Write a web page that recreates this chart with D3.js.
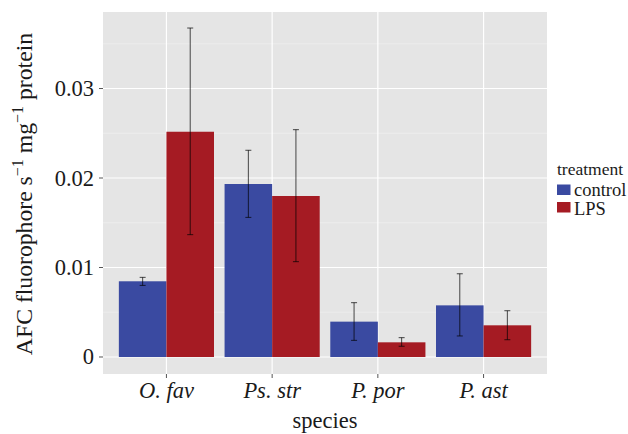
<!DOCTYPE html>
<html>
<head>
<meta charset="utf-8">
<script src="https://cdn.jsdelivr.net/npm/d3@7"></script>
<style>
  html, body { margin: 0; padding: 0; background: #fff; }
  svg { display: block; }
</style>
</head>
<body>
<svg id="chart" width="628" height="434"></svg>
<script>
const species = ["O. fav", "Ps. str", "P. por", "P. ast"];
const treatments = ["control", "LPS"];
const controlMean = [0.00846, 0.01933, 0.00395, 0.00577];
const controlLow  = [0.00800, 0.01560, 0.00186, 0.00235];
const controlHigh = [0.00890, 0.02310, 0.00607, 0.00930];
const lpsMean = [0.02517, 0.01799, 0.00164, 0.00354];
const lpsLow  = [0.01367, 0.01065, 0.00120, 0.00193];
const lpsHigh = [0.03676, 0.02540, 0.00216, 0.00517];
const yTicks = [0, 0.01, 0.02, 0.03];
const yTickLabels = ["0", "0.01", "0.02", "0.03"];
const yMinor = [0.005, 0.015, 0.025, 0.035];
const colors = { control: "#3a4aa1", LPS: "#a51b23" };

const FONT = "Liberation Serif";

const rows = [];
species.forEach((s, i) => {
  rows.push({ species: s, treatment: "control", mean: controlMean[i], low: controlLow[i], high: controlHigh[i] });
  rows.push({ species: s, treatment: "LPS", mean: lpsMean[i], low: lpsLow[i], high: lpsHigh[i] });
});

const svg = d3.select("#chart");
const panel = { left: 103, right: 547, top: 12, bottom: 374 };

const x = d3.scaleBand().domain(species).range([panel.left, panel.right])
  .paddingInner(0.1).paddingOuter(0.15);
const xInner = d3.scaleBand().domain(treatments).range([0, x.bandwidth()]).padding(0);
const y = d3.scaleLinear().domain([-0.0019, 0.03855]).range([panel.bottom, panel.top]);

function addText(px, py, str, size, opts = {}) {
  const t = svg.append("text")
    .attr("x", px).attr("y", py)
    .attr("font-family", FONT)
    .attr("font-size", size)
    .attr("fill", "#1a1a1a")
    .attr("text-anchor", opts.anchor || "start")
    .text(str);
  if (opts.italic) t.attr("font-style", "italic");
  return t;
}

// panel background
svg.append("rect")
  .attr("x", panel.left).attr("y", panel.top)
  .attr("width", panel.right - panel.left).attr("height", panel.bottom - panel.top)
  .attr("fill", "#e5e5e5");

// minor grid
yMinor.forEach(d => {
  svg.append("line").attr("x1", panel.left).attr("x2", panel.right)
    .attr("y1", y(d)).attr("y2", y(d))
    .attr("stroke", "#f2f2f2").attr("stroke-width", 0.6);
});
// major grid
yTicks.forEach(d => {
  svg.append("line").attr("x1", panel.left).attr("x2", panel.right)
    .attr("y1", y(d)).attr("y2", y(d))
    .attr("stroke", "#ffffff").attr("stroke-width", 1.2);
});
species.forEach(d => {
  const cx = x(d) + x.bandwidth() / 2;
  svg.append("line").attr("x1", cx).attr("x2", cx)
    .attr("y1", panel.top).attr("y2", panel.bottom)
    .attr("stroke", "#ffffff").attr("stroke-width", 1.2);
});

// bars
rows.forEach(d => {
  svg.append("rect")
    .attr("x", x(d.species) + xInner(d.treatment))
    .attr("width", xInner.bandwidth())
    .attr("y", y(d.mean))
    .attr("height", y(0) - y(d.mean))
    .attr("fill", colors[d.treatment]);
});

// error bars
const capW = 3;
rows.forEach(d => {
  const cx = x(d.species) + xInner(d.treatment) + xInner.bandwidth() / 2;
  const seg = (x1, y1, x2, y2) => svg.append("line")
    .attr("x1", x1).attr("y1", y1).attr("x2", x2).attr("y2", y2)
    .attr("stroke", "rgba(0,0,0,0.7)").attr("stroke-width", 1);
  seg(cx, y(d.low), cx, y(d.high));
  seg(cx - capW, y(d.low), cx + capW, y(d.low));
  seg(cx - capW, y(d.high), cx + capW, y(d.high));
});

// y axis: ticks + labels
yTicks.forEach((d, i) => {
  svg.append("line").attr("x1", panel.left - 4).attr("x2", panel.left)
    .attr("y1", y(d)).attr("y2", y(d)).attr("stroke", "#555").attr("stroke-width", 1);
  addText(panel.left - 9, y(d) + 7.5, yTickLabels[i], 22.5, { anchor: "end" });
});

// x axis: ticks + labels
species.forEach(d => {
  const cx = x(d) + x.bandwidth() / 2;
  svg.append("line").attr("x1", cx).attr("x2", cx)
    .attr("y1", panel.bottom).attr("y2", panel.bottom + 4).attr("stroke", "#555").attr("stroke-width", 1);
  addText(cx, 398, d, 22.5, { anchor: "middle", italic: true });
});

// axis titles
addText((panel.left + panel.right) / 2, 428, "species", 22.5, { anchor: "middle" });

const yt = svg.append("text")
  .attr("transform", `translate(32,${(panel.top + panel.bottom) / 2 + 1}) rotate(-90)`)
  .attr("text-anchor", "middle").attr("font-family", FONT).attr("font-size", 23.7).attr("fill", "#1a1a1a");
yt.append("tspan").text("AFC fluorophore s");
yt.append("tspan").attr("font-size", 16).attr("dy", -9).text("\u22121");
yt.append("tspan").attr("dy", 9).text(" mg");
yt.append("tspan").attr("font-size", 16).attr("dy", -9).text("\u22121");
yt.append("tspan").attr("dy", 9).text(" protein");

// legend
addText(557, 175, "treatment", 17.5);
treatments.forEach((t, i) => {
  svg.append("rect").attr("x", 557).attr("y", 184.5 + i * 17.5).attr("width", 13.5).attr("height", 10.5)
    .attr("fill", colors[t]);
  addText(574, 195.5 + i * 19.5, t, 18.5);
});
</script>
</body>
</html>
